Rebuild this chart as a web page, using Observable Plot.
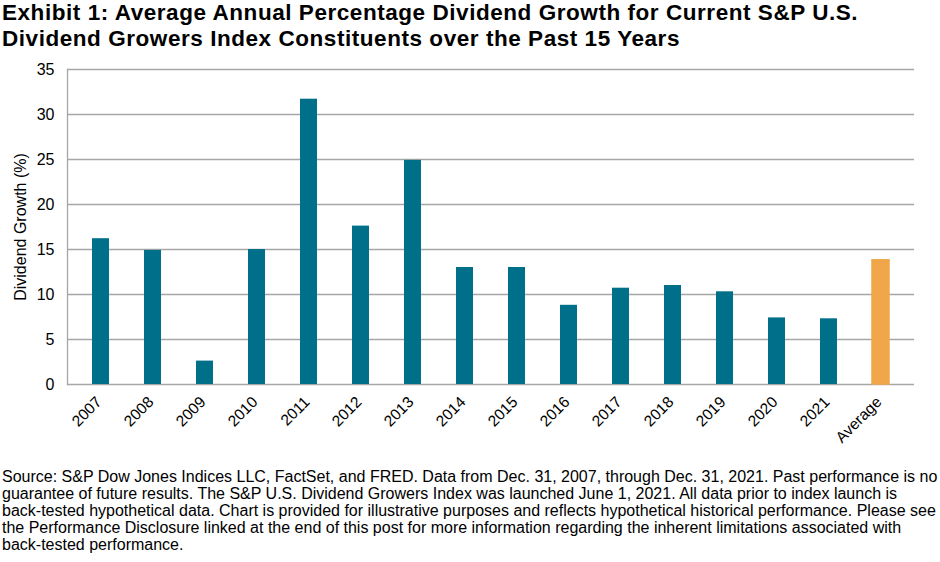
<!DOCTYPE html>
<html>
<head>
<meta charset="utf-8">
<script src="https://cdn.jsdelivr.net/npm/d3@7"></script>
<script src="https://cdn.jsdelivr.net/npm/@observablehq/plot@0.6"></script>
<style>
  html, body { margin: 0; padding: 0; background: #fff; }
  body { width: 940px; height: 562px; overflow: hidden; font-family: "Liberation Sans", Arial, sans-serif; }
  #title { font-weight: bold; font-size: 22.5px; letter-spacing: 0.55px; line-height: 26px; color: #000; padding: 0 0 0 2px; height: 55px; box-sizing: border-box; white-space: nowrap; }
  #chart svg { display: block; }
  #note { font-size: 16px; line-height: 17px; color: #000; padding: 0 0 0 2px; white-space: nowrap; }
</style>
</head>
<body>
<div id="title">Exhibit 1: Average Annual Percentage Dividend Growth for Current S&amp;P U.S.<br>Dividend Growers Index Constituents over the Past 15 Years</div>
<div id="chart"></div>
<div id="note">Source: S&amp;P Dow Jones Indices LLC, FactSet, and FRED. Data from Dec. 31, 2007, through Dec. 31, 2021. Past performance is no<br>guarantee of future results. The S&amp;P U.S. Dividend Growers Index was launched June 1, 2021. All data prior to index launch is<br>back-tested hypothetical data. Chart is provided for illustrative purposes and reflects hypothetical historical performance. Please see<br>the Performance Disclosure linked at the end of this post for more information regarding the inherent limitations associated with<br>back-tested performance.</div>
<script>
const categories = ["2007","2008","2009","2010","2011","2012","2013","2014","2015","2016","2017","2018","2019","2020","2021","Average"];
const values = [16.2, 14.9, 2.6, 15.0, 31.7, 17.6, 24.9, 13.0, 13.0, 8.8, 10.7, 11.0, 10.3, 7.4, 7.3, 13.8];
const yTicks = [0, 5, 10, 15, 20, 25, 30, 35];

const data = categories.map((c, i) => ({category: c, value: values[i]}));
const teal = "#006f89";
const orange = "#f1a64a";
const grid = "#a6a6a6";

const chart = Plot.plot({
  width: 940,
  height: 413,
  marginTop: 14,
  marginBottom: 84,
  marginLeft: 67,
  marginRight: 26,
  style: {fontFamily: "'Liberation Sans', Arial, sans-serif", fontSize: "16px", color: "#000"},
  x: {domain: categories, paddingInner: 0.68, paddingOuter: 0.34, label: null},
  y: {domain: [0, 35], ticks: yTicks, label: "Dividend Growth (%)"},
  marks: [
    Plot.ruleY(yTicks, {stroke: grid, strokeWidth: 1.3}),
    Plot.frame({anchor: "left", stroke: grid, strokeWidth: 1.3}),
    Plot.barY(data, {
      x: "category", y: "value",
      fill: d => d.category === "Average" ? orange : teal,
      stroke: d => d.category === "Average" ? orange : "none",
      strokeWidth: 1.5
    }),
    Plot.axisY({ticks: yTicks, tickSize: 0, tickPadding: 13, label: "Dividend Growth (%)", labelAnchor: "center", labelArrow: "none", labelOffset: 53, fontSize: 16}),
    Plot.axisX({tickSize: 0, tickRotate: -45, tickPadding: 15, dx: -2, label: null, fontSize: 15.5})
  ]
});
document.getElementById("chart").appendChild(chart);
</script>
</body>
</html>
